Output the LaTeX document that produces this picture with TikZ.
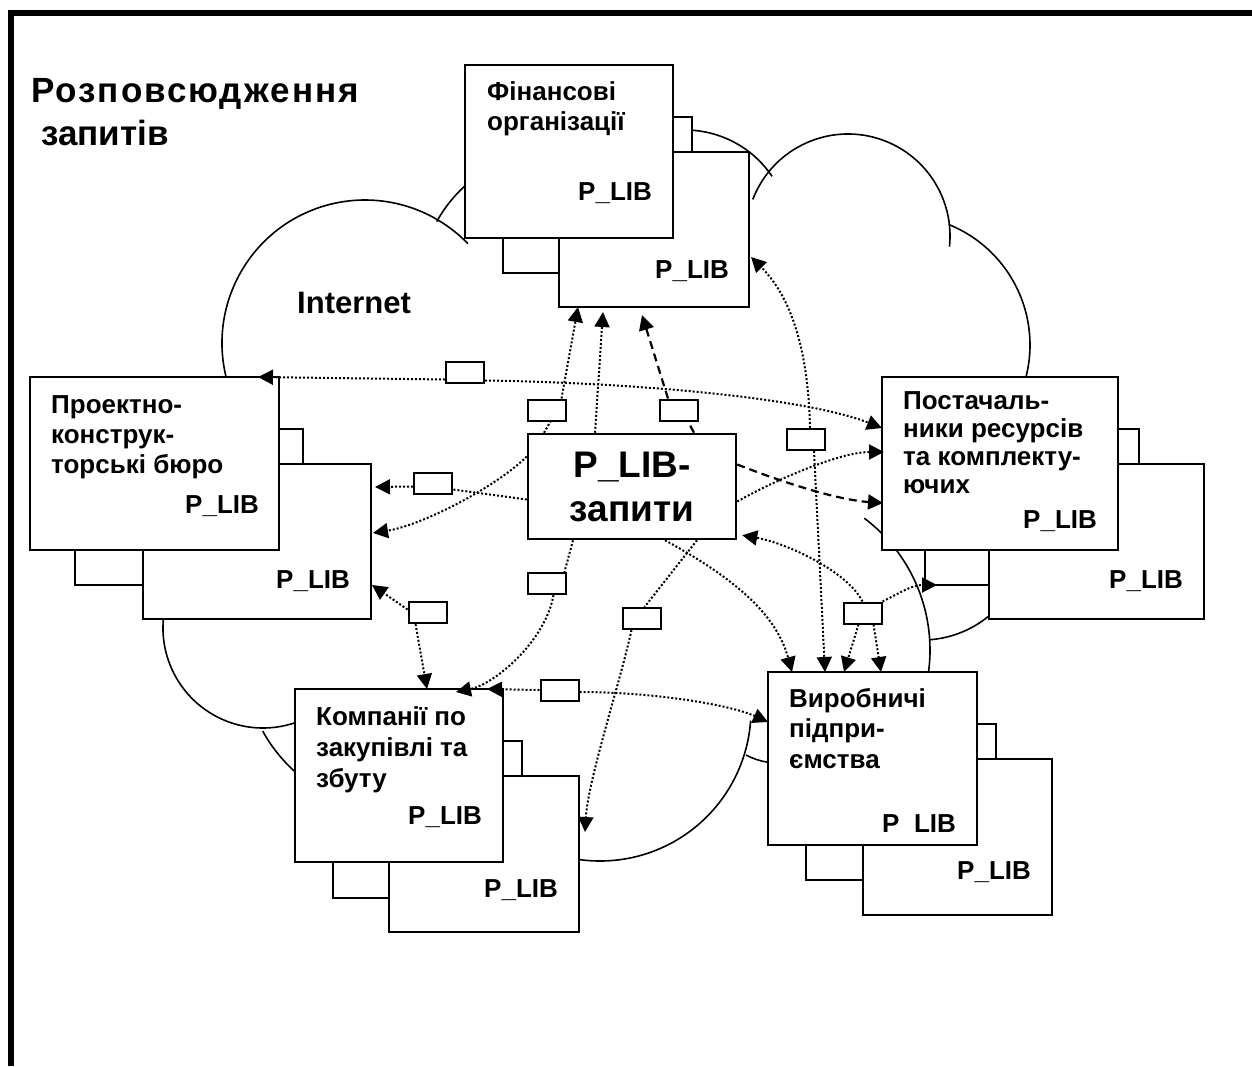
\documentclass[tikz,border=0pt]{standalone}
\usepackage{fontspec}
\setmainfont{Liberation Sans}
\usetikzlibrary{arrows.meta}

\tikzset{
  org/.style={draw, fill=white, line width=2.2pt, inner sep=0pt, outer sep=0pt, anchor=north west},
  msg/.style={draw, fill=white, line width=2pt, minimum width=38pt, minimum height=21pt, inner sep=0pt},
  lbl/.style={anchor=base west, inner sep=0pt, align=left, font=\fontsize{26}{30}\selectfont\bfseries},
  cloudline/.style={line width=1.6pt},
  dotln/.style={line width=2pt, dotted},
  dashln/.style={line width=2.2pt, dash pattern=on 8pt off 5pt},
}

\begin{document}
\begin{tikzpicture}[x=1pt, y=-1pt, >={Triangle[length=15pt,width=15pt]}]
\useasboundingbox (0,0) rectangle (1252,1066);
\draw[line width=5.5pt] (11,1066) -- (11,13) -- (1252,13);

\node[anchor=base west, inner sep=0pt, align=left, font=\fontsize{35}{43}\selectfont\bfseries] (title) at (31,145)
  {\addfontfeature{LetterSpace=5.7}Розповсюдження\\\hspace*{10pt}запитів};

% cloud
\draw[cloudline] ([shift={(160:143)}]365,343) arc[start angle=160, end angle=316, radius=143];
\draw[cloudline] ([shift={(209:141)}]560,290) arc[start angle=209, end angle=260, radius=141];
\draw[cloudline] ([shift={(240:105)}]685,235) arc[start angle=240, end angle=326, radius=105];
\draw[cloudline] ([shift={(201:102)}]848,236) arc[start angle=201, end angle=366, radius=102];
\draw[cloudline] ([shift={(292:130)}]900,345) arc[start angle=292, end angle=390, radius=130];
\draw[cloudline] ([shift={(86:105)}]922,535) arc[start angle=86, end angle=30, radius=105];
\draw[cloudline] ([shift={(307:165)}]765,650) arc[start angle=307, end angle=372, radius=165];
\draw[cloudline] ([shift={(4:151)}]600,710) arc[start angle=4, end angle=105, radius=151];
\draw[cloudline] ([shift={(118:68)}]778,695) arc[start angle=118, end angle=80, radius=68];
\draw[cloudline] ([shift={(195:100)}]263,628) arc[start angle=195, end angle=70, radius=100];
\draw[cloudline] ([shift={(151:157)}]400,655) arc[start angle=151, end angle=120, radius=157];
\node[anchor=base west, inner sep=0pt, font=\fontsize{31}{36}\selectfont\bfseries] (net) at (297,313) {Internet};

% organisations
\node[org, minimum width=189pt, minimum height=156pt] (fin2) at (503,117) {};
\node[org, minimum width=190pt, minimum height=155pt] (fin3) at (559,152) {};
\node[org, minimum width=208pt, minimum height=173pt] (fin1) at (465,65) {};
\node[lbl] (finname) at (487,130) {Фінансові\\організації};
\node[lbl] (finlib1) at (578,200) {P\_LIB};
\node[lbl] (finlib3) at (655,278) {P\_LIB};

\node[org, minimum width=228pt, minimum height=156pt] (pkb2) at (75,429) {};
\node[org, minimum width=228pt, minimum height=155pt] (pkb3) at (143,464) {};
\node[org, minimum width=249pt, minimum height=173pt] (pkb1) at (30,377) {};
\node[lbl] (pkbname) at (51,473) {Проектно-\\конструк-\\торські бюро};
\node[lbl] (pkblib1) at (185,513) {P\_LIB};
\node[lbl] (pkblib3) at (276,588) {P\_LIB};

\node[org, minimum width=214pt, minimum height=156pt] (pst2) at (925,429) {};
\node[org, minimum width=215pt, minimum height=155pt] (pst3) at (989,464) {};
\node[org, minimum width=236pt, minimum height=173pt] (pst1) at (882,377) {};
\node[lbl, font=\fontsize{26}{27.7}\selectfont\bfseries] (pstname) at (903,493) {Постачаль-\\ники ресурсів\\та комплекту-\\ючих};
\node[lbl] (pstlib1) at (1023,528) {P\_LIB};
\node[lbl] (pstlib3) at (1109,588) {P\_LIB};

\node[org, minimum width=189pt, minimum height=157pt] (kb2) at (333,741) {};
\node[org, minimum width=190pt, minimum height=156pt] (kb3) at (389,776) {};
\node[org, minimum width=208pt, minimum height=173pt] (kb1) at (295,689) {};
\node[lbl, font=\fontsize{26}{31}\selectfont\bfseries] (kbname) at (316,787) {Компанії по\\закупівлі та\\збуту};
\node[lbl] (kblib1) at (408,824) {P\_LIB};
\node[lbl] (kblib3) at (484,897) {P\_LIB};

\node[org, minimum width=190pt, minimum height=156pt] (vir2) at (806,724) {};
\node[org, minimum width=189pt, minimum height=156pt] (vir3) at (863,759) {};
\node[org, minimum width=209pt, minimum height=173pt] (vir1) at (768,672) {};
\node[lbl, font=\fontsize{26}{30.5}\selectfont\bfseries] (virname) at (789,768) {Виробничі\\підпри-\\ємства};
\node[lbl] (virlib1) at (882,832) {P\phantom{\_}LIB};
\node[lbl] (virlib3) at (957,879) {P\_LIB};

% requests
\node[draw, fill=white, line width=2.5pt, minimum width=208pt, minimum height=105pt, inner sep=0pt, align=center, font=\fontsize{37}{44}\selectfont\bfseries] (req) at (632,486.5) {P\_LIB-\\запити};

\node[msg] (m1) at (465,372.5) {};
\node[msg] (m2) at (546.5,410) {};
\node[msg] (m3) at (679,410) {};
\node[msg] (m4) at (806,439.5) {};
\node[msg] (m5) at (433,483.5) {};
\node[msg] (m6) at (546.5,583.5) {};
\node[msg] (m7) at (427.5,612.5) {};
\node[msg] (m8) at (559.5,690) {};
\node[msg] (m9) at (641.5,618.5) {};
\node[msg] (m10) at (862.5,613) {};

\draw[dotln,->] ([yshift=-7pt]m1.west) -- ([xshift=-21pt]pkb1.north east);
\draw[dotln,->] ([yshift=-8pt]m1.east) .. controls +(136,2) and +(-82,-32) .. ([yshift=-51pt]pst1.north west);

\draw[dotln] ([xshift=-88pt]req.north) -- ([xshift=4pt]m2.south);
\draw[dotln,->] ([xshift=15pt]m2.north) -- ([xshift=19pt]fin3.south west);
\draw[dotln,->] ([xshift=-37pt]req.north) -- ([xshift=44pt,yshift=-5pt]fin3.south west);
\draw[dashln] ([xshift=62pt]req.north) -- ([xshift=9pt]m3.south);
\draw[dashln,->] ([xshift=-11pt]m3.north) -- ([xshift=83pt,yshift=-8pt]fin3.south west);

\draw[dotln,->] ([xshift=4pt]m4.north) .. controls +(-2,-90) and +(35,35) .. ([xshift=2pt,yshift=-105pt]fin3.north east);
\draw[dotln,->] ([xshift=8pt]m4.south) -- ([xshift=57pt]vir1.north west);

\draw[dotln] ([yshift=-13pt]req.west) -- ([yshift=-6pt]m5.east);
\draw[dotln,->] ([yshift=-3pt]m5.west) -- ([xshift=4pt,yshift=-23pt]pkb3.north east);
\draw[dotln,->] ([yshift=30pt]req.west) .. controls +(-30,30) and +(50,-8) .. ([xshift=2pt,yshift=-69pt]pkb3.north east);
\draw[dotln,->] ([yshift=3pt]m7.west) -- ([xshift=1pt,yshift=-121pt]pkb3.north east);
\draw[dotln,->] ([xshift=-12pt]m7.south) -- ([xshift=132pt]kb1.north west);

\draw[dotln] ([xshift=-59pt]req.south) -- ([xshift=18pt]m6.north);
\draw[dotln,->] ([xshift=7pt]m6.south) .. controls +(-8,46) and +(39,-8) .. ([xshift=161pt,yshift=-3pt]kb1.north west);
\draw[dotln,->] (m8.west) -- ([xshift=-16pt]kb1.north east);
\draw[dotln,->] ([yshift=-2pt]m8.east) .. controls +(71,0) and +(-40,-18) .. ([yshift=-50pt]vir1.north west);

\draw[dotln] ([xshift=65pt]req.south) -- ([xshift=3pt]m9.north);
\draw[dotln,->] ([xshift=-10pt]m9.south) .. controls +(-11,51) and +(3,-52) .. ([xshift=6pt,yshift=-56pt]kb3.north east);

\draw[dotln,->] ([xshift=33pt]req.south) .. controls +(75,41) and +(-15,-55) .. ([xshift=24pt]vir1.north west);

\draw[dashln,->] ([yshift=22pt]req.east) .. controls +(54,21) and +(-43,-3) .. ([xshift=1pt,yshift=-126pt]pst1.north west);
\draw[dotln,->] ([yshift=-15pt]req.east) .. controls +(35,-20) and +(-45,0) .. ([xshift=2pt,yshift=-75pt]pst1.north west);

\draw[dotln,->] (m10.north) .. controls +(-15,-30) and +(45,8) .. ([xshift=5pt,yshift=5pt]req.south east);
\draw[dotln,->] (m10.north east) .. controls +(20,-10) and +(-25,0) .. ([xshift=12pt]pst2.south west);
\draw[dotln,->] ([xshift=-4pt]m10.south) -- ([xshift=76pt]vir1.north west);
\draw[dotln,->] ([xshift=11pt]m10.south) -- ([xshift=113pt]vir1.north west);
\end{tikzpicture}
\end{document}
